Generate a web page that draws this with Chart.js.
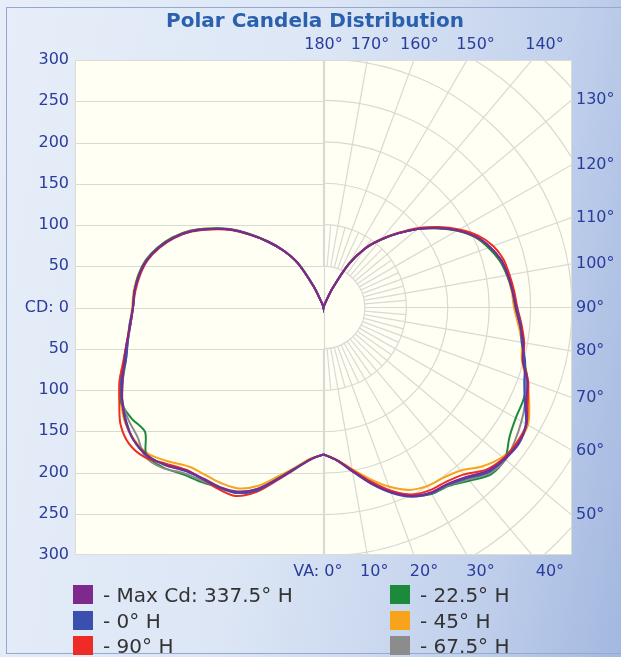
<!DOCTYPE html>
<html>
<head>
<meta charset="utf-8">
<script src="https://cdn.jsdelivr.net/npm/chart.js@4/dist/chart.umd.min.js"></script>
<style>
  html, body { margin: 0; padding: 0; }
  body { width: 621px; height: 657px; overflow: hidden; position: relative;
    background: linear-gradient(100deg, #e7eef9 0%, #dce6f5 45%, #c2d1ec 78%, #a3b8e0 100%); }
  #frame { position: absolute; left: 6px; top: 7px; width: 620px; height: 647px; border: 1px solid #95a8cf; box-sizing: border-box; }
  #wrap { position: absolute; left: 0; top: 0; width: 621px; height: 657px; }
  #legend { position: absolute; left: 0; top: 0; width: 621px; height: 657px; pointer-events: none;
    font-family: "DejaVu Sans", sans-serif; font-size: 20px; color: #333; }
  .item { position: absolute; height: 22px; line-height: 22px; white-space: nowrap; }
  .sw { display: inline-block; width: 20px; height: 19px; vertical-align: top; margin-top: 1px; margin-right: 10px; }
</style>
</head>
<body>
<div id="frame"></div>
<div id="wrap"><canvas id="c" width="621" height="657"></canvas></div>
<div id="legend"></div>
<script>
// ---- data ----
const title = "Polar Candela Distribution";
const angles = [0,5,10,15,20,25,30,35,40,45,50,55,60,65,70,75,80,85,90,95,100,105,110,115,120,125,130,135,140,145,150,155,160,165,170,175,180];
const seriesNames = ["- Max Cd: 337.5° H", "- 0° H", "- 90° H", "- 22.5° H", "- 45° H", "- 67.5° H"];
const seriesColors = ["#7e2a8c", "#3b4fae", "#ee2b24", "#1b8a3a", "#f7a31c", "#8c8c8c"];
// right half (plane) candela values at each vertical angle
const maxCdRight = [178,186,201,220,238,252,259,261,268,280,285,287,283,270,262,249,245,238,232,229,226,222,214,203,187,168,148,127,107,87,60,25,5,2,1,0,0];
const h0Right    = [178,186,202,221,239,253,260,262,270,282,286,288,282,268,258,252,243,239,233,229,226,222,214,203,187,168,148,127,107,87,60,25,5,2,1,0,0];
const h90Right   = [178,186,200,218,236,250,256,258,264,278,284,285,283,272,263,250,246,240,234,231,228,225,218,206,189,170,150,128,108,88,61,25,5,2,1,0,0];
const h225Right  = [178,186,201,219,237,252,261,264,274,286,286,274,268,266,262,251,244,238,232,229,225,220,212,202,186,167,148,127,107,87,60,25,5,2,1,0,0];
const h45Right   = [178,185,199,215,231,244,250,252,258,272,282,286,285,274,261,248,243,236,230,228,225,221,213,202,187,168,148,127,107,87,60,25,5,2,1,0,0];
const h675Right  = [178,186,201,219,237,251,260,263,272,284,287,282,276,269,260,250,244,238,232,229,226,222,214,203,187,168,148,127,107,87,60,25,5,2,1,0,0];
// left half (opposite plane)
const maxCdLeft  = [178,185,198,215,234,246,251,253,258,270,278,280,276,268,258,249,241,234,230,229,226,221,212,200,185,166,147,125,104,84,62,28,6,2,1,0,0];
const h0Left     = [178,185,199,216,236,248,252,254,259,270,279,280,275,268,260,247,240,235,230,229,226,221,212,200,185,166,147,125,104,84,62,28,6,2,1,0,0];
const h90Left    = [178,185,199,217,238,252,254,254,257,268,282,287,283,272,262,250,241,234,230,228,225,220,211,199,184,165,146,124,104,84,62,28,6,2,1,0,0];
const h225Left   = [178,185,198,215,235,248,252,258,264,274,279,263,268,270,258,247,240,234,230,229,227,222,213,201,186,167,148,126,105,85,63,28,6,2,1,0,0];
const h45Left    = [178,184,197,212,230,242,246,248,252,264,276,279,277,270,262,250,241,235,231,230,227,222,213,201,186,167,147,125,104,84,62,28,6,2,1,0,0];
const h675Left   = [178,185,198,215,234,247,252,256,262,275,281,274,272,268,258,248,240,234,230,229,226,221,212,200,185,166,147,125,104,84,62,28,6,2,1,0,0];
const rightSets = [maxCdRight, h0Right, h90Right, h225Right, h45Right, h675Right];
const leftSets  = [maxCdLeft, h0Left, h90Left, h225Left, h45Left, h675Left];
const cdTicks = [-300,-250,-200,-150,-100,-50,0,50,100,150,200,250,300];
const rightAngleLabels = [130,120,110,100,90,80,70,60,50];
const topAngleLabels = [180,170,160,150,140];
const bottomAngleLabels = [0,10,20,30,40];

// ---- polar -> cartesian (VA 0 points down) ----
function toXY(r, deg, side) {
  const t = deg * Math.PI / 180;
  return { x: side * r * Math.sin(t), y: -r * Math.cos(t) };
}
function buildCurve(right, left) {
  const pts = [];
  for (let i = 0; i < angles.length; i++) pts.push(toXY(right[i], angles[i], 1));
  for (let i = angles.length - 1; i >= 0; i--) pts.push(toXY(left[i], angles[i], -1));
  return pts;
}
const drawOrder = [0, 1, 2, 5, 3, 4];
const datasets = drawOrder.map(i => ({
  label: seriesNames[i],
  data: buildCurve(rightSets[i], leftSets[i]),
  borderColor: seriesColors[i],
  backgroundColor: seriesColors[i],
  borderWidth: 2,
  pointRadius: 0,
  showLine: true,
  fill: false,
  tension: 0.3
}));

const labelColor = "#2a3c9c";
const gridColor = "#d9d9d6";
const axisFont = '16px "DejaVu Sans", sans-serif';

const polarPlugin = {
  id: 'polarGrid',
  beforeDatasetsDraw(chart) {
    const { ctx, chartArea: a, scales: { x, y } } = chart;
    const cx = x.getPixelForValue(0), cy = y.getPixelForValue(0);
    const k = x.getPixelForValue(100) - cx;   // px per 100 cd
    ctx.save();
    ctx.fillStyle = "#fffff3";
    ctx.fillRect(a.left, a.top, a.width, a.height);
    ctx.beginPath();
    ctx.rect(a.left, a.top, a.width, a.height);
    ctx.clip();
    ctx.strokeStyle = gridColor;
    ctx.lineWidth = 1.2;
    cdTicks.forEach(v => {
      const py = Math.round(y.getPixelForValue(v)) + 0.5;
      ctx.beginPath(); ctx.moveTo(a.left, py); ctx.lineTo(cx, py); ctx.stroke();
    });
    ctx.beginPath(); ctx.moveTo(Math.round(cx) + 0.5, a.top); ctx.lineTo(Math.round(cx) + 0.5, a.bottom); ctx.stroke();
    for (let r = 50; r <= 450; r += 50) {
      ctx.beginPath();
      ctx.arc(cx, cy, r * k / 100, -Math.PI / 2, Math.PI / 2);
      ctx.stroke();
    }
    for (let d = 0; d <= 180; d += 5) {
      const r0 = 50, r1 = (d % 10 === 0) ? 460 : 100;
      const p0 = toXY(r0, d, 1), p1 = toXY(r1, d, 1);
      ctx.beginPath();
      ctx.moveTo(x.getPixelForValue(p0.x), y.getPixelForValue(p0.y));
      ctx.lineTo(x.getPixelForValue(p1.x), y.getPixelForValue(p1.y));
      ctx.stroke();
    }
    ctx.restore();
    ctx.save();
    ctx.strokeStyle = "#dcdcd4";
    ctx.lineWidth = 1;
    ctx.strokeRect(a.left + 0.5, a.top + 0.5, a.width - 1, a.height - 1);
    ctx.restore();
  },
  afterDraw(chart) {
    const { ctx, chartArea: a, scales: { x, y } } = chart;
    ctx.save();
    ctx.fillStyle = "#2b60ae";
    ctx.font = 'bold 20px "DejaVu Sans", sans-serif';
    ctx.textAlign = "center"; ctx.textBaseline = "middle";
    ctx.fillText(title, 315, 22);
    ctx.fillStyle = labelColor;
    ctx.font = axisFont;
    ctx.textAlign = "left";
    rightAngleLabels.forEach(d => {
      const t = d * Math.PI / 180;
      const yv = -300 * Math.cos(t) / Math.sin(t);
      ctx.fillText(d + "°", a.right + 4, y.getPixelForValue(yv));
    });
    ctx.textAlign = "center";
    const topR = 318;
    topAngleLabels.forEach(d => {
      const t = (180 - d) * Math.PI / 180;
      ctx.fillText(d + "°", x.getPixelForValue(topR * Math.tan(t)), y.getPixelForValue(topR));
    });
    const botR = 320;
    bottomAngleLabels.forEach(d => {
      const t = d * Math.PI / 180;
      const px = x.getPixelForValue(botR * Math.tan(t)) + (d === 0 ? 0 : 4);
      const py = y.getPixelForValue(-botR);
      if (d === 0) { ctx.textAlign = "right"; ctx.fillText("VA: 0°", px + 19, py); ctx.textAlign = "center"; }
      else ctx.fillText(d + "°", px, py);
    });
    ctx.restore();
  }
};

new Chart(document.getElementById('c'), {
  type: 'scatter',
  data: { datasets },
  options: {
    responsive: false,
    animation: false,
    layout: { padding: { left: 0, right: 49, top: 60, bottom: 102 } },
    plugins: { legend: { display: false }, tooltip: { enabled: false } },
    scales: {
      x: { type: 'linear', min: -300, max: 300, display: false },
      y: {
        type: 'linear', min: -300, max: 300, position: 'left',
        afterFit(s) { s.width = 75; },
        grid: { display: false, drawTicks: false },
        border: { display: false },
        afterBuildTicks(s) { s.ticks = cdTicks.map(v => ({ value: v })); },
        ticks: {
          color: labelColor,
          font: { family: '"DejaVu Sans", sans-serif', size: 16 },
          padding: 6,
          callback: v => v === 0 ? "CD: 0" : String(Math.abs(v))
        }
      }
    }
  },
  plugins: [polarPlugin]
});

// ---- HTML legend ----
const legendPos = [
  [73, 584], [73, 610], [73, 635],
  [390, 584], [390, 610], [390, 635]
];
const lg = document.getElementById('legend');
seriesNames.forEach((name, j) => {
  const d = document.createElement('div');
  d.className = 'item';
  d.style.left = legendPos[j][0] + 'px';
  d.style.top = legendPos[j][1] + 'px';
  d.innerHTML = '<span class="sw" style="background:' + seriesColors[j] + '"></span>' + name;
  lg.appendChild(d);
});
</script>
</body>
</html>
